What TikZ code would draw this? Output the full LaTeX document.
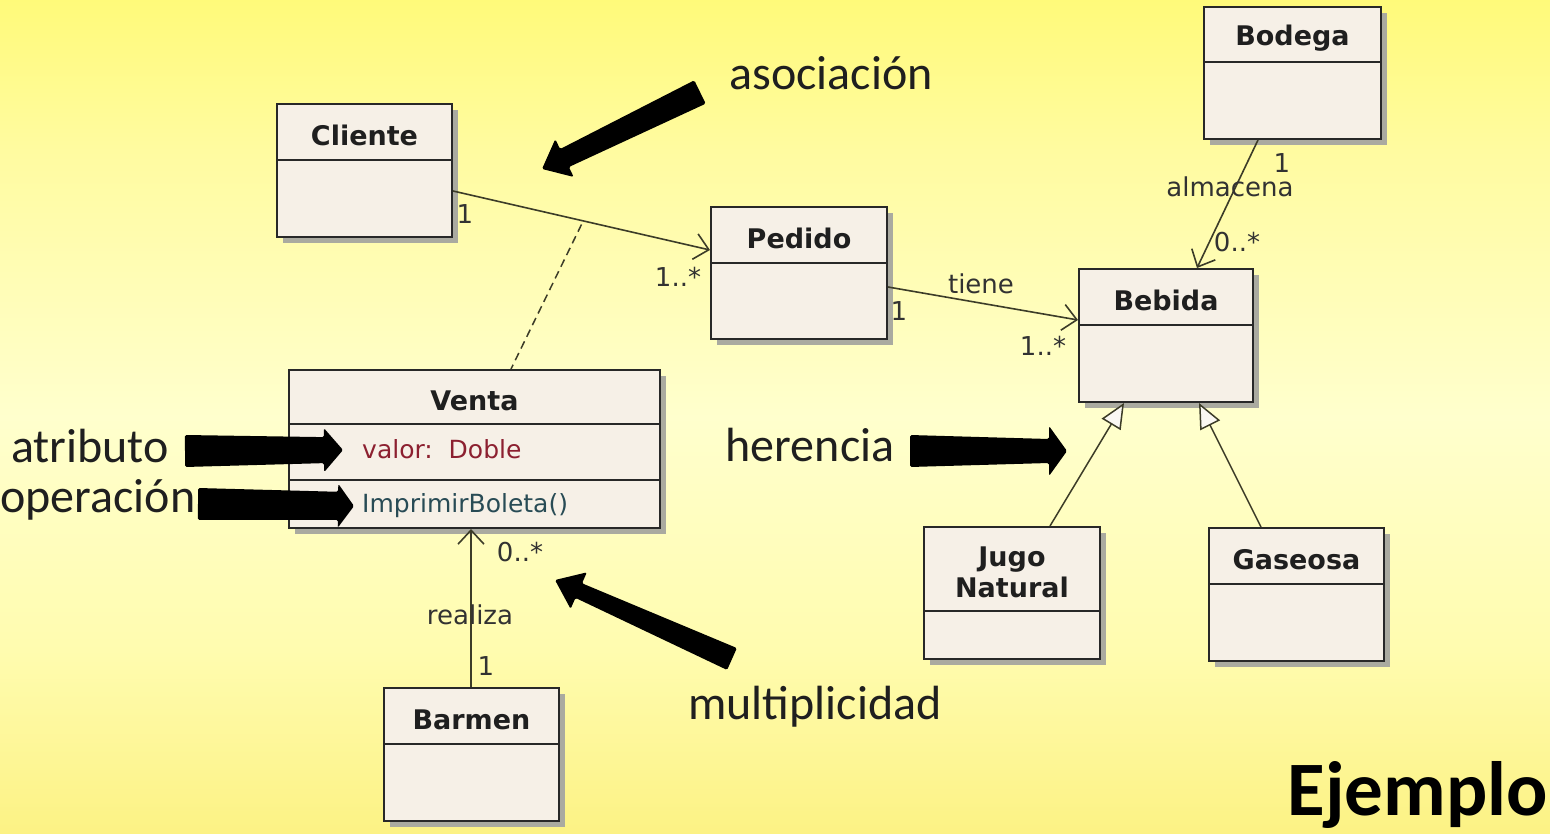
\documentclass[tikz,border=0pt]{standalone}
\usepackage{fontspec}
\setmainfont{DejaVu Sans}
\newfontfamily\annotfont{Carlito}
\usetikzlibrary{arrows.meta,calc,shadows}

\definecolor{boxfill}{RGB}{246,240,231}
\definecolor{boxline}{RGB}{40,40,40}
\definecolor{shadowgray}{RGB}{170,170,160}
\definecolor{conn}{RGB}{60,60,40}
\definecolor{labelgray}{RGB}{50,50,50}
\definecolor{attrred}{RGB}{140,32,48}
\definecolor{opteal}{RGB}{40,75,85}

\pgfdeclareverticalshading{bgshade}{100bp}{%
  color(0bp)=(rgb,255:red,252;green,242;blue,132);
  color(25bp)=(rgb,255:red,252;green,242;blue,132);
  color(36bp)=(rgb,255:red,255;green,252;blue,175);
  color(50bp)=(rgb,255:red,255;green,255;blue,205);
  color(66bp)=(rgb,255:red,255;green,251;blue,160);
  color(75bp)=(rgb,255:red,255;green,250;blue,122);
  color(100bp)=(rgb,255:red,255;green,250;blue,122)}

\tikzset{
  cls/.style={draw=boxline, line width=2pt, fill=boxfill, inner sep=0pt, anchor=north west,
    drop shadow={shadow xshift=6pt, shadow yshift=-6pt, fill=shadowgray, opacity=1}},
  divline/.style={draw=boxline, line width=1.8pt},
  ttl/.style={font=\bfseries\fontsize{27}{31}\selectfont, text=black!88, align=center, inner sep=0pt},
  lbl/.style={font=\fontsize{26}{30}\selectfont, text=labelgray, inner sep=0pt, anchor=base},
  member/.style={font=\fontsize{25}{30}\selectfont, inner sep=0pt, anchor=base west},
  assoc/.style={draw=conn, line width=1.6pt, -{Straight Barb[length=14pt,width=26pt,line width=1.6pt]}},
  assocdash/.style={draw=conn, line width=1.5pt, dash pattern=on 8pt off 5pt},
  gen/.style={draw=conn, line width=1.5pt, -{Triangle[length=25pt,width=22pt,fill=white!50!boxfill,line width=1.5pt]}},
  annot/.style={font=\annotfont\fontsize{48}{52}\selectfont, text=black!88, inner sep=0pt, anchor=base},
  fat/.style={fill=black, rounded corners=1.5pt},
}

\newcommand\umlclass[7]{%
  \node[cls, minimum width=#4pt, minimum height=#5pt] (#1) at (#2,#3) {};
  \draw[divline] ([yshift=-#6pt]#1.north west) -- ([yshift=-#6pt]#1.north east);
  \node[ttl] (#1-title) at ([yshift=-0.5*#6pt-4pt]#1.north) {#7};
}
% start, tip, half-width at start, half-width at head, head half-width, head length
\newcommand\fatarrow[6]{%
  \coordinate (#2-h) at ($(#2)!#6pt!(#1)$);
  \fill[fat] ($(#1)!#3pt!90:(#2)$) -- ($(#2-h)!#4pt!90:(#2)$) -- ($(#2-h)!#5pt!90:(#2)$)
    -- (#2) -- ($(#2-h)!#5pt!-90:(#2)$) -- ($(#2-h)!#4pt!-90:(#2)$) -- ($(#1)!#3pt!-90:(#2)$) -- cycle;
}

\begin{document}
\begin{tikzpicture}[x=1pt,y=-1pt]
\useasboundingbox (0,0) rectangle (1550,834);
\shade[shading=bgshade] (0,0) rectangle (1550,834);

% classes
\umlclass{cliente}{276}{103}{175}{133}{57}{Cliente}
\umlclass{pedido}{710}{206}{176}{132}{57}{Pedido}
\umlclass{bodega}{1203}{6}{177}{132}{56}{Bodega}
\umlclass{bebida}{1078}{268}{174}{133}{57}{Bebida}
\umlclass{venta}{288}{369}{371}{158}{55}{Venta}
\draw[divline] ([yshift=-111pt]venta.north west) -- ([yshift=-111pt]venta.north east);
\node[member, text=attrred] (valor) at (362,458) {valor:\ \ Doble};
\node[member, text=opteal] (imprimir) at (362,512) {ImprimirBoleta()};
\umlclass{jugo}{923}{526}{176}{132}{85}{Jugo\\Natural}
\umlclass{gaseosa}{1208}{527}{175}{133}{57}{Gaseosa}
\umlclass{barmen}{383}{687}{175}{133}{57}{Barmen}

% associations
\draw[assoc] ([yshift=-88pt]cliente.north east) -- ([yshift=-44pt]pedido.north west) coordinate[pos=0.5] (amid);
\draw[assocdash] ([yshift=-4pt]amid) -- ([xshift=223pt]venta.north west);
\draw[assoc] ([yshift=-81pt]pedido.north east) -- ([yshift=-52pt]bebida.north west);
\draw[assoc] ([xshift=55pt]bodega.south west) -- ([xshift=119pt]bebida.north west);
\draw[assoc] ([xshift=88pt]barmen.north west) -- ([xshift=183pt]venta.south west);
\draw[gen] ([xshift=127pt]jugo.north west) -- ([xshift=46pt]bebida.south west);
\draw[gen] ([xshift=53pt]gaseosa.north west) -- ([xshift=121pt]bebida.south west);

% multiplicities and names
\node[lbl] (m1) at (465,224) {1};
\node[lbl] (m2) at (678,287) {1..*};
\node[lbl] (tiene) at (981,294) {tiene};
\node[lbl] (m3) at (899,320) {1};
\node[lbl] (m4) at (1043,355) {1..*};
\node[lbl] (m5) at (1282,173) {1};
\node[lbl] (almacena) at (1230,197) {almacena};
\node[lbl] (m6) at (1237,252) {0..*};
\node[lbl] (m7) at (520,561) {0..*};
\node[lbl] (realiza) at (470,624) {realiza};
\node[lbl] (m8) at (486,675) {1};

% annotation arrows
\coordinate (asocS) at (700,92);   \coordinate (asocT) at (542,169);
\coordinate (attrS) at (185,451);  \coordinate (attrT) at (343,450);
\coordinate (operS) at (198,504);  \coordinate (operT) at (354,506);
\coordinate (herS) at (910,451);   \coordinate (herT) at (1067,451);
\coordinate (multS) at (732,659);  \coordinate (multT) at (555,580);
\fatarrow{asocS}{asocT}{13}{10}{21}{25}
\fatarrow{attrS}{attrT}{16}{13}{22}{19}
\fatarrow{operS}{operT}{16}{14}{22}{16}
\fatarrow{herS}{herT}{16}{12}{25}{18}
\fatarrow{multS}{multT}{12}{8}{20}{26}

% annotation texts
\node[annot] (tasoc) at (831,90) {asociación};
\node[annot] (tattr) at (90,462) {atributo};
\node[annot] (toper) at (98,512) {operación};
\node[annot] (ther) at (810,461) {herencia};
\node[annot] (tmult) at (815,719) {multiplicidad};
\node[font=\annotfont\bfseries\fontsize{77}{80}\selectfont, text=black, inner sep=0pt, anchor=base east] (ejemplo) at (1548,815) {Ejemplo};
\end{tikzpicture}
\end{document}
